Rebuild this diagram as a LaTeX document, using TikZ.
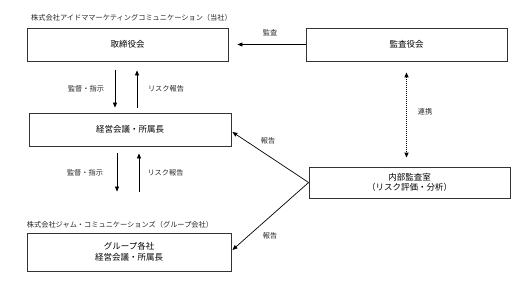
\documentclass[tikz,border=0pt]{standalone}
\usepackage{fontspec}
\setmainfont{Noto Sans CJK JP}
\usetikzlibrary{arrows.meta}
\begin{document}
\begin{tikzpicture}[x=1pt,y=-1pt,
  box/.style={draw=black!80,line width=0.8pt,inner sep=0pt,align=center,
    font=\fontsize{8.5}{10.5}\selectfont},
  lbl/.style={inner sep=0pt,text=black!85,font=\fontsize{7.2}{8}\selectfont},
  arr/.style={line width=0.7pt,-{Triangle[length=5pt,width=4pt]}},
  dotarr/.style={line width=1.1pt,dash pattern=on 1pt off 1pt,{Triangle[length=5pt,width=4pt]}-{Triangle[length=5pt,width=4pt]}}]
\useasboundingbox (0,0) rectangle (530,289);
\node[box,minimum width=201pt,minimum height=33pt] (tor) at (127.5,44.5) {取締役会};
\node[box,minimum width=201pt,minimum height=33pt] (kansa) at (406.5,44.5) {監査役会};
\node[box,minimum width=202pt,minimum height=33pt] (keiei) at (130,129.5) {経営会議・所属長};
\node[box,minimum width=204pt,minimum height=38pt] (group) at (129,252) {グループ各社\\経営会議・所属長};
\node[box,minimum width=201pt,minimum height=31pt] (naibu) at (409.5,182.5) {内部監査室\\（リスク評価・分析）};
\node[lbl] (toplbl) at (131.5,18) {株式会社アイドママーケティングコミュニケーション（当社）};
\node[lbl] (grplbl) at (120,225) {株式会社ジャム・コミュニケーションズ（グループ会社）};
% vertical arrows upper
\draw[arr] ([shift={(-12.5,9)}]tor.south) -- ([shift={(-15,-5)}]keiei.north);
\draw[arr] ([shift={(7,-5)}]keiei.north) -- ([shift={(9.5,9)}]tor.south);
\node[lbl] (l1) at (86,89) {監督・指示};
\node[lbl] (l2) at (166,89) {リスク報告};
% vertical arrows lower
\draw[arr] ([shift={(-13,7)}]keiei.south) -- ([shift={(-12,-41)}]group.north);
\draw[arr] ([shift={(10,-41)}]group.north) -- ([shift={(9,7)}]keiei.south);
\node[lbl] (l3) at (85,173) {監督・指示};
\node[lbl] (l4) at (165.5,173) {リスク報告};
% audit
\draw[arr,shorten >=9pt] (kansa.west) -- (tor.east);
\node[lbl] (l5) at (270,33) {監査};
% cooperation
\draw[dotarr,shorten <=11pt,shorten >=9pt] (kansa.south) -- (kansa.south |- naibu.north);
\node[lbl] (l6) at (425,112) {連携};
% reports
\draw[arr] (naibu.west) -- ([shift={(1,2.5)}]keiei.east);
\draw[arr] (naibu.west) -- ([shift={(1,-2)}]group.east);
\node[lbl] (l7) at (268,141) {報告};
\node[lbl] (l8) at (270,236) {報告};
\end{tikzpicture}
\end{document}
